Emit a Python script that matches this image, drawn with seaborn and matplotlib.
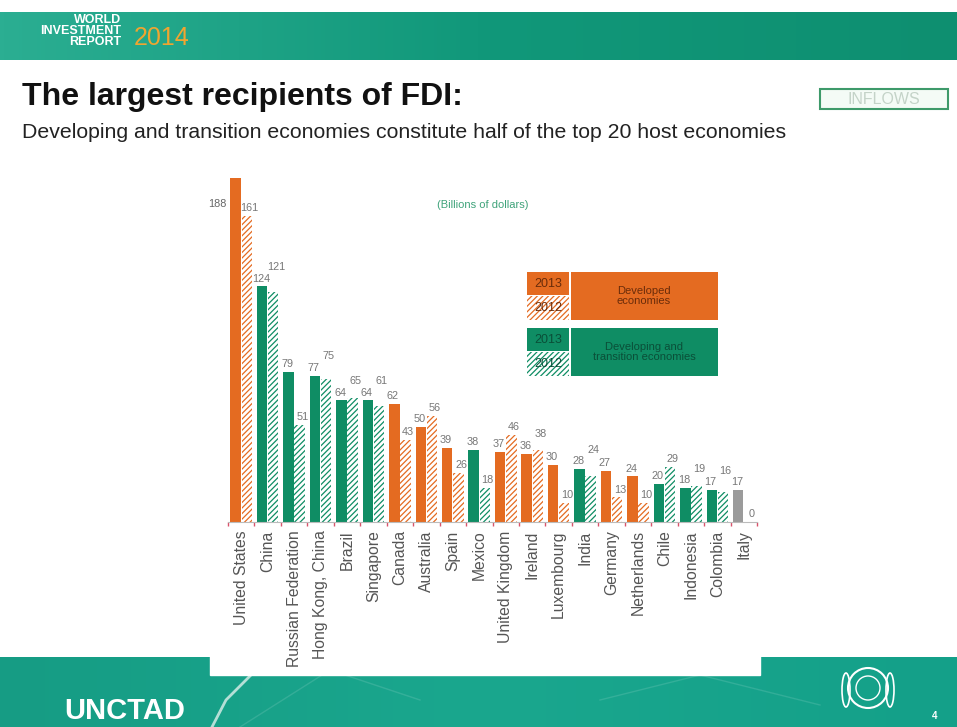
import numpy as np
import pandas as pd
import matplotlib.pyplot as plt
import seaborn as sns
from matplotlib.patches import Rectangle, Circle, Ellipse
from matplotlib.colors import LinearSegmentedColormap

# Data (billions of dollars)
economies = ['United States', 'China', 'Russian Federation', 'Hong Kong, China', 'Brazil',
             'Singapore', 'Canada', 'Australia', 'Spain', 'Mexico', 'United Kingdom',
             'Ireland', 'Luxembourg', 'India', 'Germany', 'Netherlands', 'Chile',
             'Indonesia', 'Colombia', 'Italy']
fdi_2013 = [188, 124, 79, 77, 64, 64, 62, 50, 39, 38, 37, 36, 30, 28, 27, 24, 20, 18, 17, 17]
fdi_2012 = [161, 121, 51, 75, 65, 61, 43, 56, 26, 18, 46, 38, 10, 24, 13, 10, 29, 19, 16, 0]
group = ['dev', 'dvg', 'dvg', 'dvg', 'dvg', 'dvg', 'dev', 'dev', 'dev', 'dvg', 'dev',
         'dev', 'dev', 'dvg', 'dev', 'dev', 'dvg', 'dvg', 'dvg', 'other']

ORANGE = '#E46B21'
GREEN = '#0F8D64'
GREY = '#9B9B9B'
colors = {'dev': ORANGE, 'dvg': GREEN, 'other': GREY}

df = pd.DataFrame({
    'economy': economies * 2,
    'year': ['2013'] * len(economies) + ['2012'] * len(economies),
    'value': fdi_2013 + fdi_2012,
})

W, H = 957, 727
plt.rcParams['hatch.linewidth'] = 0.9
fig = plt.figure(figsize=(W / 100, H / 100), dpi=100)
plt.rcParams['font.family'] = ['Liberation Sans', 'DejaVu Sans']

# background layer in pixel coordinates
bg = fig.add_axes([0, 0, 1, 1], zorder=-1)
bg.set_xlim(0, W)
bg.set_ylim(H, 0)
bg.axis('off')

grad = np.linspace(0, 1, 256).reshape(1, -1)
teal = LinearSegmentedColormap.from_list('teal', ['#2BAE92', '#11987A', '#0E8F70'])
bg.imshow(grad, cmap=teal, extent=(0, W, 60, 12), aspect='auto')
bg.imshow(grad, cmap=LinearSegmentedColormap.from_list('ft', ['#169C84', '#1AA78E', '#14A089']),
          extent=(0, W, H, 657), aspect='auto')
bg.add_patch(Rectangle((210, 640), 550, 35, color='white', zorder=3))
for x0, x1, y0, y1 in [(240, 330, 727, 670), (330, 420, 670, 700), (600, 700, 700, 675),
                       (700, 820, 675, 705)]:
    bg.plot([x0, x1], [y0, y1], color='white', alpha=0.12, lw=1, zorder=2)

bg.text(121, 20, 'WORLD', ha='right', va='center', color='white', fontsize=9, fontweight='bold')
bg.text(121, 31, 'INVESTMENT', ha='right', va='center', color='white', fontsize=9, fontweight='bold',
        fontstretch='condensed')
bg.text(121, 42, 'REPORT', ha='right', va='center', color='white', fontsize=9, fontweight='bold')
bg.text(134, 38, '2014', ha='left', va='center', color='#F0A530', fontsize=18)

bg.text(22, 97, 'The largest recipients of FDI:', ha='left', va='center',
        fontsize=23, fontweight='bold', color='#111111')
bg.text(22, 133, 'Developing and transition economies constitute half of the top 20 host economies',
        ha='left', va='center', fontsize=15.3, color='#222222')

bg.add_patch(Rectangle((820, 89), 128, 20, facecolor='#F4FBF6', edgecolor='#3E9A6A', lw=1.5))
bg.text(884, 99.5, 'INFLOWS', ha='center', va='center', fontsize=11.5, color='#C4D3C8')

bg.text(483, 205, '(Billions of dollars)', ha='center', va='center', fontsize=8, color='#3FA37A')

# legend blocks
for y0, col, label, dark in [(272, ORANGE, 'Developed\neconomies', '#6A2C0A'),
                             (328, GREEN, 'Developing and\ntransition economies', '#0A4F38')]:
    bg.add_patch(Rectangle((527, y0), 42, 23, facecolor=col, edgecolor='none'))
    bg.add_patch(Rectangle((527, y0 + 24), 42, 24, facecolor='white', edgecolor=col,
                           hatch='//////', lw=0))
    bg.add_patch(Rectangle((571, y0), 147, 48, facecolor=col, edgecolor='none'))
    bg.text(548, y0 + 12, '2013', ha='center', va='center', fontsize=9, color=dark)
    bg.text(548, y0 + 36, '2012', ha='center', va='center', fontsize=9, color=dark)
    bg.text(644, y0 + 24, label, ha='center', va='center', fontsize=8, color=dark,
            linespacing=1.1)

bg.text(64, 711, 'UNCTAD', ha='left', va='center', fontsize=21, fontweight='bold', color='white')
bg.plot([212, 226, 258], [727, 700, 668], color='#DDEFEA', lw=2, alpha=0.8)
bg.add_patch(Circle((868, 688), 20, fill=False, edgecolor='white', lw=1.5))
bg.add_patch(Circle((868, 688), 12, fill=False, edgecolor='white', lw=1))
bg.add_patch(Ellipse((846, 690), 8, 34, fill=False, edgecolor='white', lw=1.2))
bg.add_patch(Ellipse((890, 690), 8, 34, fill=False, edgecolor='white', lw=1.2))
bg.text(935, 716, '4', ha='center', va='center', fontsize=7, color='white', fontweight='bold')

# chart
left, right, base, top = 228, 757, 522, 178
ax = fig.add_axes([left / W, 1 - base / H, (right - left) / W, (base - top) / H])
sns.barplot(data=df, x='economy', y='value', hue='year', hue_order=['2013', '2012'],
            order=economies, palette=[ORANGE, ORANGE], width=0.84, gap=0.06,
            legend=False, ax=ax)
ymax = 181
ax.set_ylim(0, ymax)

# style bars and collect label positions in left-to-right order
labels = []
for bars, vals, hatched in [(ax.containers[0], fdi_2013, False), (ax.containers[1], fdi_2012, True)]:
    for bar, v, g in zip(bars, vals, group):
        c = colors[g]
        if hatched:
            bar.set_facecolor('white')
            bar.set_edgecolor(c)
            bar.set_hatch('//////')
            bar.set_linewidth(0)
        else:
            bar.set_facecolor(c)
            bar.set_edgecolor('none')
        labels.append((bar.get_x() + bar.get_width() / 2, v, hatched, bar.get_x()))
labels.sort()

prev_y = -99
for cx, v, hatched, bx in labels:
    if v > ymax:
        ax.annotate(str(v), (bx, ymax), xytext=(-3, -19), textcoords='offset points',
                    ha='right', va='center', fontsize=7.8, color='#666666', annotation_clip=False)
        prev_y = ymax
        continue
    y = v
    if abs(y - prev_y) < 6:
        y = prev_y + 6  # lift label that would collide with its neighbour
    ax.annotate(str(v), (cx, y), xytext=(2 if hatched else -1, 2), textcoords='offset points',
                ha='center', va='bottom', fontsize=7.8, color='#777777', annotation_clip=False)
    prev_y = y

ax.set_xlabel('')
ax.set_ylabel('')
ax.set_yticks([])
for s in ['top', 'right', 'left']:
    ax.spines[s].set_visible(False)
ax.spines['bottom'].set_color('#BBBBBB')
ax.set_facecolor('none')
ax.set_xticks(range(len(economies)))
ax.set_xticklabels(economies, rotation=90, fontsize=11.3, color='#555555')
ax.tick_params(axis='x', length=0, pad=6)
ax.set_xticks(np.arange(-0.5, len(economies), 1), minor=True)
ax.tick_params(axis='x', which='minor', length=3, color='#D9536B', width=1)

fig.savefig('out.png', dpi=100)
